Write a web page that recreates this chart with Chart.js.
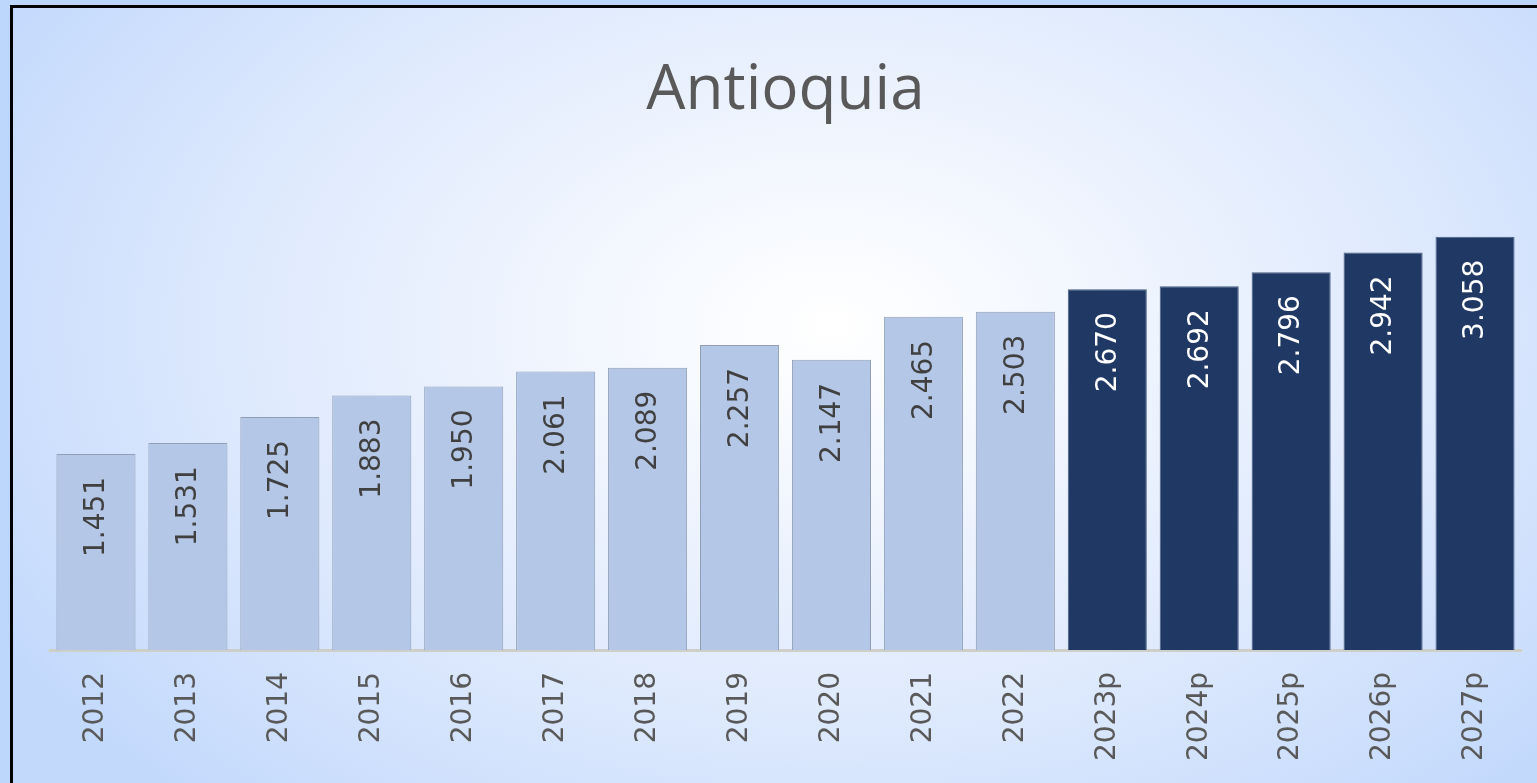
<!DOCTYPE html>
<html>
<head>
<meta charset="utf-8">
<script src="https://cdn.jsdelivr.net/npm/chart.js@4/dist/chart.umd.min.js"></script>
<style>
  html, body { margin: 0; padding: 0; width: 1537px; height: 783px; overflow: hidden; background: #bdd6fb; }
  #bg { position: absolute; left: 10px; top: 5px; right: -20px; bottom: -20px;
        border-left: 3px solid #000; border-top: 3px solid #000;
        background: radial-gradient(ellipse 62% 80% at 53% 40%, #ffffff 0%, #f3f7fe 25%, #dfeafd 60%, #c3d9fc 100%); }
  #c { position: absolute; left: 0; top: 0; }
</style>
</head>
<body>
<div id="bg"></div>
<canvas id="c" width="1537" height="783"></canvas>
<script>
const categories = ['2012','2013','2014','2015','2016','2017','2018','2019','2020','2021','2022','2023p','2024p','2025p','2026p','2027p'];
const values = [1451, 1531, 1725, 1883, 1950, 2061, 2089, 2257, 2147, 2465, 2503, 2670, 2692, 2796, 2942, 3058];
const title = 'Antioquia';

const histColor = '#b4c7e7';
const projColor = '#1f3864';
const isProj = categories.map(c => c.endsWith('p'));

function fmt(v) {
  return String(v).replace(/\B(?=(\d{3})+(?!\d))/g, '.');
}

const valueLabels = {
  id: 'valueLabels',
  afterDatasetsDraw(chart) {
    const ctx = chart.ctx;
    const meta = chart.getDatasetMeta(0);
    meta.data.forEach((bar, i) => {
      ctx.save();
      ctx.translate(bar.x + 1, bar.y + 23);
      ctx.rotate(-Math.PI / 2);
      ctx.textAlign = 'right';
      ctx.textBaseline = 'middle';
      ctx.font = '28px "DejaVu Sans"';
      ctx.fillStyle = isProj[i] ? '#ffffff' : '#404040';
      ctx.fillText(fmt(values[i]), 0, 0);
      ctx.restore();
    });
  }
};

new Chart(document.getElementById('c'), {
  type: 'bar',
  data: {
    labels: categories,
    datasets: [{
      data: values,
      backgroundColor: isProj.map(p => p ? projColor : histColor),
      borderColor: isProj.map(p => p ? '#4a5d80' : '#8f9fb8'),
      borderWidth: 1,
      categoryPercentage: 0.86,
      barPercentage: 1.0
    }]
  },
  options: {
    responsive: false,
    animation: false,
    layout: { padding: { left: 50, right: 16, top: 0, bottom: 0 } },
    plugins: {
      legend: { display: false },
      tooltip: { enabled: false },
      title: {
        display: true,
        text: title,
        color: '#595959',
        font: { family: '"Open Sans"', size: 62, weight: 'normal', lineHeight: 1.2 },
        padding: { top: 54, bottom: 48.6 }
      }
    },
    scales: {
      x: {
        grid: { display: false },
        border: { display: true, color: '#cfcfca', width: 3 },
        ticks: {
          color: '#595959',
          font: { family: '"DejaVu Sans"', size: 28 },
          minRotation: 90,
          maxRotation: 90,
          padding: 14
        },
        afterFit(scale) { scale.height = 133; }
      },
      y: {
        display: false,
        min: 0,
        max: 3500
      }
    }
  },
  plugins: [valueLabels]
});
</script>
</body>
</html>
